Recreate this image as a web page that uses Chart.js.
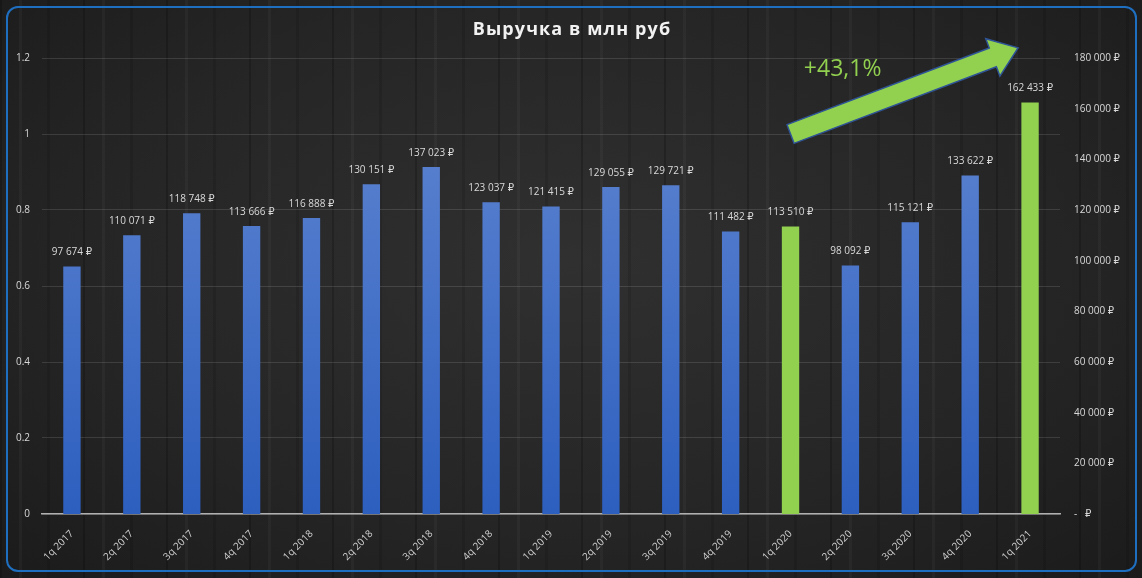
<!DOCTYPE html>
<html>
<head>
<meta charset="utf-8">
<script src="https://cdn.jsdelivr.net/npm/chart.js@4/dist/chart.umd.min.js"></script>
<style>
  html, body { margin: 0; padding: 0; overflow: hidden; }
  body {
    width: 1142px; height: 578px;
    background:
      repeating-linear-gradient(90deg, rgba(0,0,0,0.2) 0 2px, transparent 2px 19px, rgba(255,255,255,0.03) 19px 22px, transparent 22px 47px, rgba(0,0,0,0.12) 47px 50px, transparent 50px 83px),
      radial-gradient(ellipse at 50% 45%, #303030 0%, #252525 60%, #1b1b1b 100%);
  }
  #wrap { position: relative; width: 1142px; height: 578px; }
  #frame {
    position: absolute; left: 6px; top: 6px; width: 1127px; height: 562px;
    border: 2px solid #1f6fc1; border-radius: 12px; pointer-events: none;
  }
</style>
</head>
<body>
<div id="wrap">
  <canvas id="myChart"></canvas>
  <div id="frame"></div>
</div>
<script>
const quarters = ["1q 2017", "2q 2017", "3q 2017", "4q 2017", "1q 2018", "2q 2018", "3q 2018", "4q 2018",
  "1q 2019", "2q 2019", "3q 2019", "4q 2019", "1q 2020", "2q 2020", "3q 2020", "4q 2020", "1q 2021"];
const revenue = [97674, 110071, 118748, 113666, 116888, 130151, 137023, 123037,
  121415, 129055, 129721, 111482, 113510, 98092, 115121, 133622, 162433];
const highlighted = ["1q 2020", "1q 2021"];
const leftTicks = [0, 0.2, 0.4, 0.6, 0.8, 1, 1.2];
const rightTicks = [0, 20000, 40000, 60000, 80000, 100000, 120000, 140000, 160000, 180000];
const titleText = "Выручка в млн руб";
const growthText = "+43,1%";

const green = "#92d050";
const fontFam = "'Open Sans', 'DejaVu Sans', sans-serif";
Chart.defaults.font.family = fontFam;
Chart.defaults.color = "#d9d9d9";

function rub(v) {
  if (v === 0) return "-   \u20BD";
  return String(v).replace(/\B(?=(\d{3})+(?!\d))/g, " ") + " \u20BD";
}

// blue gradient for the usual quarters, green for the compared ones
function barColor(ctx) {
  if (highlighted.includes(quarters[ctx.dataIndex])) return green;
  const area = ctx.chart.chartArea;
  if (!area) return "#4a72c8";
  const g = ctx.chart.ctx.createLinearGradient(0, area.top, 0, area.bottom);
  g.addColorStop(0, "#6388d2");
  g.addColorStop(1, "#2d5fbf");
  return g;
}

// title drawn by hand so it can get the letter spacing of the original
const spacedTitle = {
  id: "spacedTitle",
  afterDraw(chart) {
    const c = chart.ctx;
    c.save();
    c.font = "bold 18px " + fontFam;
    c.letterSpacing = "1.1px";
    c.fillStyle = "#f2f2f2";
    c.textAlign = "center";
    c.textBaseline = "middle";
    c.fillText(titleText, chart.width / 2 + 1, 30);
    c.restore();
  }
};

const valueLabels = {
  id: "valueLabels",
  afterDatasetsDraw(chart) {
    const c = chart.ctx;
    const meta = chart.getDatasetMeta(0);
    c.save();
    c.font = "10px " + fontFam;
    c.fillStyle = "#d9d9d9";
    c.textAlign = "center";
    c.textBaseline = "middle";
    meta.data.forEach((bar, i) => {
      c.fillText(rub(revenue[i]), bar.x, bar.y - 14);
    });
    c.restore();
  }
};

// arrow from 1q 2020 up to 1q 2021 with growth text
const growthArrow = {
  id: "growthArrow",
  afterDatasetsDraw(chart) {
    const x = chart.scales.x, y = chart.scales.y1;
    const x0 = x.getPixelForValue(12), y0 = y.getPixelForValue(150000);
    const x1 = x.getPixelForValue(15.8), y1 = y.getPixelForValue(184000);
    const ang = Math.atan2(y1 - y0, x1 - x0);
    const len = Math.hypot(x1 - x0, y1 - y0);
    const sw = 10, hw = 20, hl = 27;
    const c = chart.ctx;
    c.save();
    c.translate(x0, y0);
    c.rotate(ang);
    c.beginPath();
    c.moveTo(0, -sw);
    c.lineTo(len - hl, -sw);
    c.lineTo(len - hl, -hw);
    c.lineTo(len, 0);
    c.lineTo(len - hl, hw);
    c.lineTo(len - hl, sw);
    c.lineTo(0, sw);
    c.closePath();
    c.fillStyle = green;
    c.fill();
    c.lineWidth = 1.5;
    c.strokeStyle = "#2f5597";
    c.stroke();
    c.restore();

    c.save();
    c.font = "23px " + fontFam;
    c.fillStyle = green;
    c.textAlign = "center";
    c.textBaseline = "middle";
    c.fillText(growthText, x.getPixelForValue(12.87), y.getPixelForValue(175500));
    c.restore();
  }
};

new Chart("myChart", {
  type: "bar",
  data: {
    labels: quarters,
    datasets: [{
      label: "Выручка",
      data: revenue,
      yAxisID: "y1",
      backgroundColor: barColor,
      borderWidth: 0,
      categoryPercentage: 1,
      barPercentage: 0.29
    }]
  },
  options: {
    responsive: true,
    maintainAspectRatio: false,
    animation: false,
    layout: { padding: { top: 58 } },
    plugins: {
      legend: { display: false },
      tooltip: { enabled: false },
      title: { display: false }
    },
    scales: {
      x: {
        grid: { display: false },
        border: { color: "#b0b0b0", width: 1.5 },
        ticks: { autoSkip: false, minRotation: 45, maxRotation: 45, padding: 6, font: { size: 10 }, color: "#d0d0d0" },
        afterFit(s) { s.height = 64; }
      },
      y: {
        position: "left",
        min: 0, max: 1.2,
        afterBuildTicks(s) { s.ticks = leftTicks.map(v => ({ value: v })); },
        grid: { color: "rgba(255,255,255,0.12)", drawTicks: false },
        border: { display: false },
        ticks: { padding: 12, font: { size: 10 }, color: "#d9d9d9", callback: v => String(v) },
        afterFit(s) { s.width = 42; }
      },
      y1: {
        position: "right",
        min: 0, max: 180000,
        afterBuildTicks(s) { s.ticks = rightTicks.map(v => ({ value: v })); },
        grid: { display: false, drawTicks: false },
        border: { display: false },
        ticks: { padding: 14, font: { size: 10 }, color: "#d9d9d9", callback: v => rub(v) },
        afterFit(s) { s.width = 82; }
      }
    }
  },
  plugins: [valueLabels, growthArrow, spacedTitle]
});
</script>
</body>
</html>
